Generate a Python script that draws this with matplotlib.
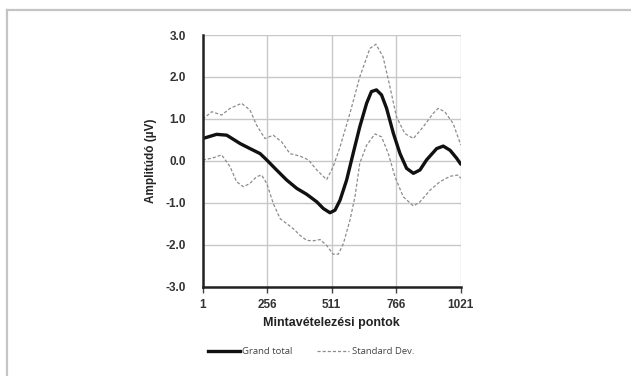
import matplotlib
matplotlib.use("Agg")
import matplotlib.pyplot as plt
from matplotlib.lines import Line2D

# ---- data ----
gt_x = [1, 56, 96, 149, 188, 228, 254, 293, 333, 373, 412, 452, 478, 504, 524, 544,
        570, 596, 622, 649, 668, 688, 708, 728, 755, 781, 807, 834, 860, 886, 926,
        952, 979, 1005, 1021]
gt_y = [0.53, 0.63, 0.61, 0.41, 0.29, 0.17, 0.02, -0.22, -0.46, -0.66, -0.80, -0.98,
        -1.14, -1.24, -1.18, -0.94, -0.46, 0.18, 0.81, 1.37, 1.65, 1.69, 1.57, 1.25,
        0.65, 0.17, -0.18, -0.30, -0.22, 0.02, 0.29, 0.35, 0.25, 0.06, -0.08]

up_x = [1, 37, 76, 109, 155, 188, 214, 247, 280, 313, 346, 386, 419, 452, 491, 517,
        544, 583, 622, 662, 686, 714, 741, 767, 800, 834, 873, 912, 932, 958, 991, 1021]
up_y = [0.99, 1.17, 1.09, 1.25, 1.37, 1.21, 0.85, 0.53, 0.61, 0.45, 0.17, 0.11, 0.02,
        -0.22, -0.45, -0.14, 0.33, 1.13, 2.00, 2.68, 2.78, 2.48, 1.77, 1.05, 0.65, 0.53,
        0.81, 1.13, 1.25, 1.17, 0.89, 0.38]

lo_x = [1, 37, 76, 109, 135, 162, 188, 214, 234, 254, 280, 307, 333, 359, 386, 412,
        438, 465, 491, 517, 537, 557, 583, 603, 622, 649, 682, 708, 735, 761, 794, 834,
        860, 900, 939, 979, 1012, 1021]
lo_y = [0.02, 0.06, 0.14, -0.14, -0.50, -0.62, -0.54, -0.38, -0.34, -0.54, -1.02,
        -1.38, -1.50, -1.62, -1.78, -1.90, -1.91, -1.88, -2.02, -2.23, -2.23, -1.98,
        -1.42, -0.86, -0.06, 0.37, 0.64, 0.57, 0.17, -0.38, -0.86, -1.08, -0.98, -0.70,
        -0.50, -0.37, -0.34, -0.42]

x_ticks = [1, 256, 511, 766, 1021]
y_ticks = [-3.0, -2.0, -1.0, 0.0, 1.0, 2.0, 3.0]

W, H = 631, 376
fig = plt.figure(figsize=(W / 100, H / 100), dpi=100)

# outer grey frame (top and left visible)
fig.add_artist(Line2D([7 / W, 1.0], [1 - 10 / H, 1 - 10 / H], color="#c4c4c4", lw=1.6,
                      transform=fig.transFigure))
fig.add_artist(Line2D([7 / W, 7 / W], [0.0, 1 - 10 / H], color="#c4c4c4", lw=1.6,
                      transform=fig.transFigure))

ax = fig.add_axes([202.7 / W, 1 - 286.5 / H, (460.7 - 202.7) / W, (286.5 - 35) / H])

dash = (0, (2.5, 1.6))
ax.plot(up_x, up_y, color="#8c8c8c", lw=0.9, ls=dash)
ax.plot(lo_x, lo_y, color="#8c8c8c", lw=0.9, ls=dash)
ax.plot(gt_x, gt_y, color="#111111", lw=2.4, solid_joinstyle="round", solid_capstyle="round")

ax.set_xlim(1, 1021)
ax.set_ylim(-3, 3)
ax.set_xticks(x_ticks)
ax.set_yticks(y_ticks)
ax.set_xticklabels([str(v) for v in x_ticks])
ax.set_yticklabels([f"{v:.1f}" for v in y_ticks])
ax.grid(True, color="#c8c8c8", lw=1.0)
ax.set_axisbelow(True)

for s in ("top", "right"):
    ax.spines[s].set_visible(False)
ax.spines["left"].set_color("#222222")
ax.spines["left"].set_linewidth(1.8)
ax.spines["bottom"].set_color("#222222")
ax.spines["bottom"].set_linewidth(1.8)

fnt = ["Liberation Sans Narrow", "Liberation Sans"]
ax.tick_params(axis="x", length=4, width=1.0, color="#444444", pad=5,
               labelsize=8.5, labelcolor="#333333")
ax.tick_params(axis="y", length=0, pad=12, labelsize=8.5, labelcolor="#333333")
for lab in ax.get_xticklabels() + ax.get_yticklabels():
    lab.set_fontfamily(fnt)
    lab.set_fontweight("bold")

ax.set_xlabel("Mintavételezési pontok", fontsize=9, fontweight="bold", family=fnt,
              color="#222222", labelpad=4)
ax.set_ylabel("Amplitúdó (µV)", fontsize=8.5, fontweight="bold", family=fnt,
              color="#222222", labelpad=6)

handles = [Line2D([], [], color="#111111", lw=2.4),
           Line2D([], [], color="#8c8c8c", lw=0.9, ls=dash)]
fig.legend(handles, ["Grand total", "Standard Dev."], loc="center",
           bbox_to_anchor=(311 / W, 1 - 352 / H), ncol=2, frameon=False,
           prop={"family": "Open Sans", "size": 6.8}, labelcolor="#444444",
           handlelength=3.4, handletextpad=0.25, columnspacing=2.6)

fig.savefig("out.png", dpi=100, facecolor="white")
